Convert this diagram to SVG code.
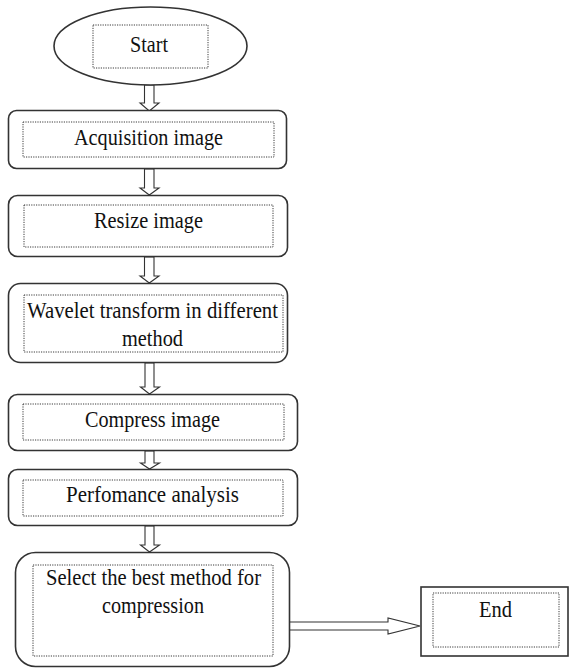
<svg xmlns="http://www.w3.org/2000/svg" width="569" height="668" viewBox="0 0 569 668">
  <style>
    .box { fill: #ffffff; stroke: #333333; stroke-width: 1.6; }
    .inner { fill: none; stroke: #3a3a3a; stroke-width: 1; stroke-dasharray: 1.2 1.2; }
    .arrow { fill: #ffffff; stroke: #333333; stroke-width: 1.1; stroke-linejoin: miter; }
    text { font-family: "Liberation Serif", "Times New Roman", serif; font-size: 22.5px; fill: #111111; text-anchor: middle; }
  </style>
  <rect width="569" height="668" fill="#ffffff"/>

  <!-- block arrows between steps -->
  <g id="connectors">
    <polygon class="arrow" points="144.5,85 154,85 154,103 159,103 149.3,111 140,103 144.5,103"/>
    <polygon class="arrow" points="144.5,169 154,169 154,188 159,188 149.3,195 140,188 144.5,188"/>
    <polygon class="arrow" points="144.5,257 154,257 154,276 159,276 149.3,283 140,276 144.5,276"/>
    <polygon class="arrow" points="145,363 154,363 154,387 159.5,387 149.5,394 140.5,387 145,387"/>
    <polygon class="arrow" points="145,451 154,451 154,463 159.5,463 149.5,469 140.5,463 145,463"/>
    <polygon class="arrow" points="145,526 154,526 154,545 159.5,545 149.5,552 140.5,545 145,545"/>
    <polygon class="arrow" points="289,622 388,622 388,618 420,626 388,634 388,630 289,630"/>
  </g>

  <g id="start">
    <ellipse class="box" cx="150.5" cy="46" rx="96.5" ry="39"/>
    <rect class="inner" x="93" y="25" width="115" height="43"/>
    <text x="149" y="52" textLength="38" lengthAdjust="spacingAndGlyphs">Start</text>
  </g>

  <g id="acquisition">
    <rect class="box" x="8.5" y="110.5" width="278" height="58" rx="8"/>
    <rect class="inner" x="23" y="122" width="251" height="35"/>
    <text x="148.5" y="144.5" textLength="149" lengthAdjust="spacingAndGlyphs">Acquisition image</text>
  </g>

  <g id="resize">
    <rect class="box" x="8.5" y="195.5" width="279" height="61" rx="9"/>
    <rect class="inner" x="24" y="205" width="249" height="42"/>
    <text x="148.5" y="227.5" textLength="109" lengthAdjust="spacingAndGlyphs">Resize image</text>
  </g>

  <g id="wavelet">
    <rect class="box" x="8.5" y="283.5" width="279" height="79" rx="12"/>
    <rect class="inner" x="24" y="295" width="259" height="57"/>
    <text x="152.5" y="317.5" textLength="251" lengthAdjust="spacingAndGlyphs">Wavelet transform in different</text>
    <text x="152.5" y="346" textLength="61" lengthAdjust="spacingAndGlyphs">method</text>
  </g>

  <g id="compress">
    <rect class="box" x="8.5" y="394.5" width="289" height="56" rx="9"/>
    <rect class="inner" x="23" y="404" width="261" height="36"/>
    <text x="152.5" y="427" textLength="135" lengthAdjust="spacingAndGlyphs">Compress image</text>
  </g>

  <g id="performance">
    <rect class="box" x="8.5" y="469.5" width="289" height="56" rx="9"/>
    <rect class="inner" x="23" y="480" width="260" height="36"/>
    <text x="152.5" y="502" textLength="173" lengthAdjust="spacingAndGlyphs">Perfomance analysis</text>
  </g>

  <g id="select">
    <rect class="box" x="15.5" y="552.5" width="274" height="114" rx="20"/>
    <rect class="inner" x="33" y="565" width="240" height="91"/>
    <text x="153.5" y="585" textLength="215" lengthAdjust="spacingAndGlyphs">Select the best method for</text>
    <text x="153" y="613" textLength="102" lengthAdjust="spacingAndGlyphs">compression</text>
  </g>

  <g id="end">
    <rect class="box" x="421" y="587" width="147" height="69"/>
    <rect class="inner" x="433" y="593" width="126" height="54"/>
    <text x="495.5" y="617" textLength="33" lengthAdjust="spacingAndGlyphs">End</text>
  </g>
</svg>
